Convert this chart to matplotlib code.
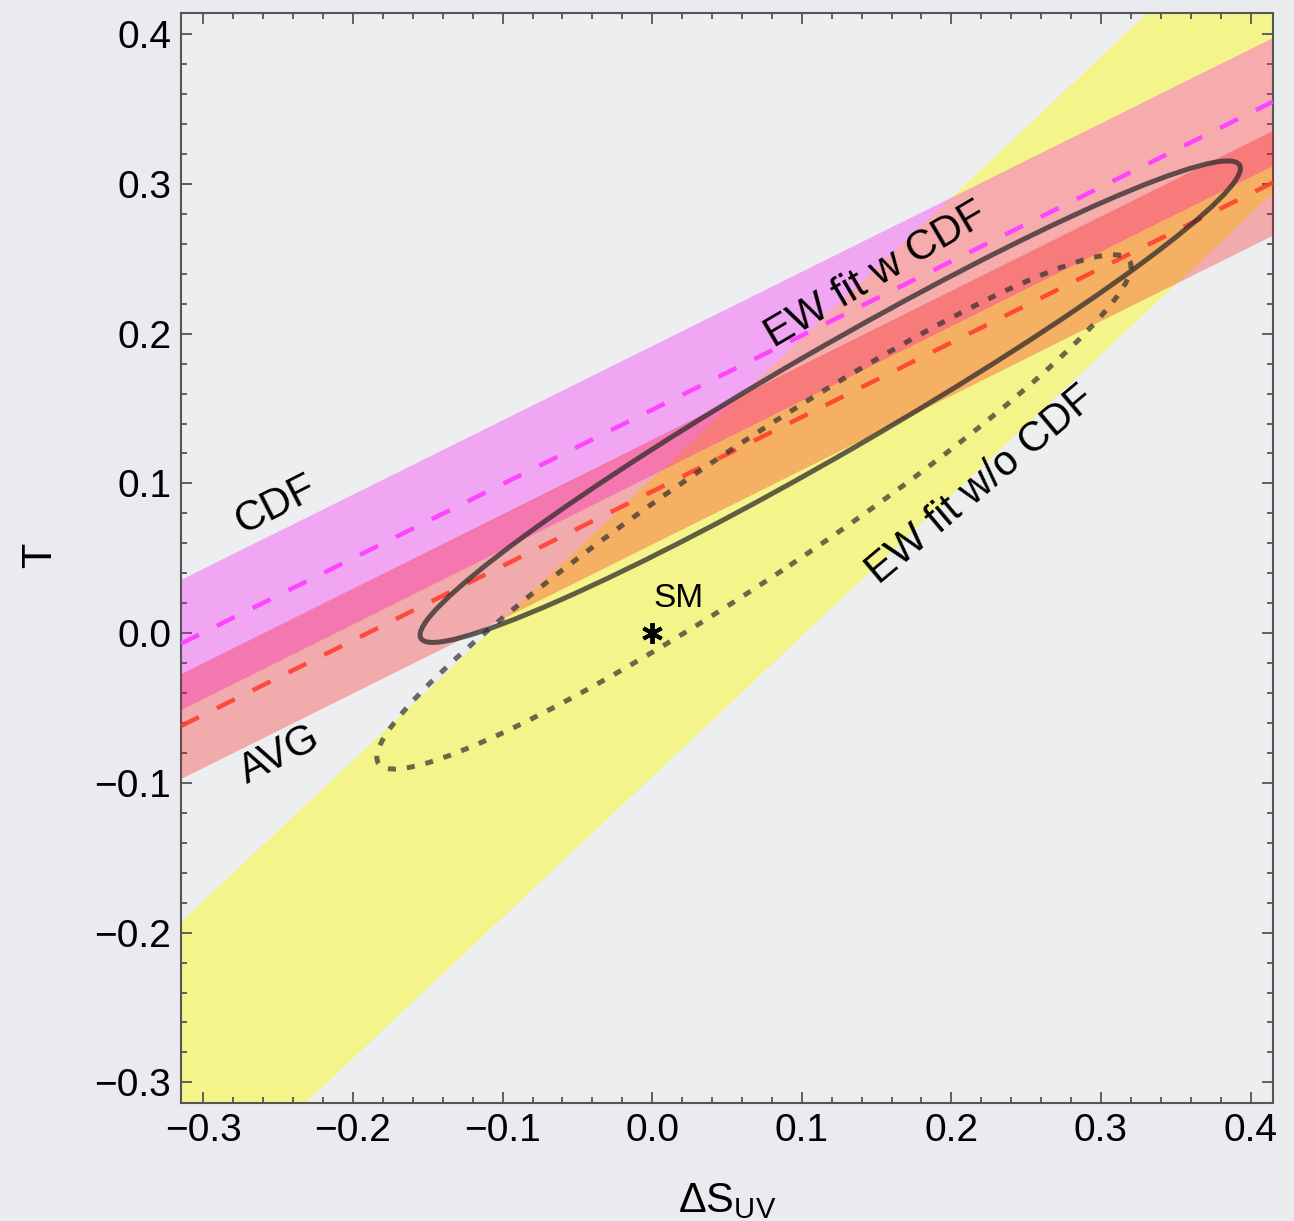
import numpy as np
import matplotlib.pyplot as plt
from matplotlib.patches import Ellipse
from matplotlib.ticker import MultipleLocator

plt.rcParams['font.family'] = ['Liberation Sans', 'DejaVu Sans']
plt.rcParams['mathtext.fontset'] = 'custom'
plt.rcParams['mathtext.rm'] = 'Liberation Sans'
plt.rcParams['mathtext.it'] = 'Liberation Sans:italic'

# plot range (Delta S_UV and T)
s_lim = [-0.315, 0.415]
t_lim = [-0.314, 0.414]

# straight bands: values of T at the two ends s_lim[0], s_lim[1]
cdf_center = [-0.007, 0.355]
cdf_lower = [-0.051, 0.3125]
cdf_upper = [0.036, 0.398]

avg_center = [-0.062, 0.301]
avg_lower = [-0.097, 0.266]
avg_upper = [-0.027, 0.336]

ew_lower = [-0.392, 0.294]
ew_upper = [-0.193, 0.493]

# fit ellipses: center (S, T), full width, full height, angle (deg)
fit_cdf = [(0.119, 0.1546), 0.632, 0.069, 30.0]
fit_nocdf = [(0.068, 0.081), 0.604, 0.086, 33.8]

sm_point = (0.0, 0.0)

fig = plt.figure(figsize=(12.94, 12.21), dpi=100)
fig.patch.set_facecolor('#e9ebee')
ax = fig.add_axes([181 / 1294, 1 - 1103.3 / 1221, 1092 / 1294, 1090 / 1221])
ax.set_facecolor('#eceef0')

ax.fill_between(s_lim, ew_lower, ew_upper, color='#ffff00', alpha=0.42, lw=0, zorder=1)
ax.fill_between(s_lim, cdf_lower, cdf_upper, color='#ff00ff', alpha=0.3, lw=0, zorder=2)
ax.fill_between(s_lim, avg_lower, avg_upper, color='#ff0000', alpha=0.28, lw=0, zorder=3)

ax.plot(s_lim, cdf_center, color='#ff44ff', lw=3.2, dashes=(4.5, 4.5), zorder=4)
ax.plot(s_lim, avg_center, color='#ff4030', lw=3.2, dashes=(4.5, 4.5), alpha=0.9, zorder=4)

e1 = Ellipse(fit_cdf[0], fit_cdf[1], fit_cdf[2], angle=fit_cdf[3],
             fill=False, ec='#2e2a2a', lw=3.6, alpha=0.75, zorder=5)
e2 = Ellipse(fit_nocdf[0], fit_nocdf[1], fit_nocdf[2], angle=fit_nocdf[3],
             fill=False, ec='#2e2e2e', lw=3.6, alpha=0.7, ls=(0, (1.6, 2.2)), zorder=5)
ax.add_patch(e1)
ax.add_patch(e2)

ax.plot(*sm_point, marker=(6, 2, 0), ms=15, mew=2.8, color='black', zorder=6)
ax.text(0.0175, 0.0234, 'SM', fontsize=24, ha='center', va='center', zorder=6)

ax.text(-0.2514, 0.0856, 'CDF', fontsize=30, rotation=27, ha='center', va='center',
        rotation_mode='anchor')
ax.text(-0.2487, -0.0814, 'AVG', fontsize=30, rotation=27, ha='center', va='center',
        rotation_mode='anchor')
ax.text(0.1493, 0.2392, 'EW fit w CDF', fontsize=30, rotation=30.5, ha='center', va='center',
        rotation_mode='anchor', zorder=6)
ax.text(0.2196, 0.0989, 'EW fit w/o CDF', fontsize=30, rotation=40, ha='center', va='center',
        rotation_mode='anchor', zorder=6)

ax.set_xlim(s_lim)
ax.set_ylim(t_lim)
ax.xaxis.set_major_locator(MultipleLocator(0.1))
ax.yaxis.set_major_locator(MultipleLocator(0.1))
ax.xaxis.set_minor_locator(MultipleLocator(0.02))
ax.yaxis.set_minor_locator(MultipleLocator(0.02))
ax.tick_params(which='both', direction='in', top=True, right=True, color='#555555', width=1.3)
ax.tick_params(which='major', length=8, labelsize=28, pad=7)
ax.tick_params(which='minor', length=4.5)
for sp in ax.spines.values():
    sp.set_color('#555555')
    sp.set_linewidth(1.5)

ax.set_xlabel(r'$\mathrm{\Delta S}_{\mathrm{UV}}$', fontsize=30)
ax.xaxis.set_label_coords(0.5, -0.071)
ax.set_ylabel('T', fontsize=30)
ax.yaxis.set_label_coords(-0.111, 0.503)

fig.savefig('out.png', dpi=100, facecolor=fig.get_facecolor())
